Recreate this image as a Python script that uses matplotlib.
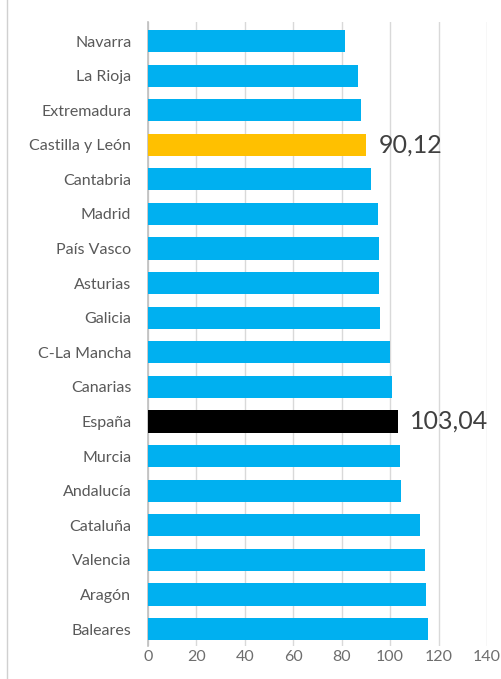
import matplotlib.pyplot as plt
from matplotlib.lines import Line2D

plt.rcParams['font.family'] = ['Lato', 'DejaVu Sans']

# datos (indice, de arriba a abajo)
regiones = ['Navarra', 'La Rioja', 'Extremadura', 'Castilla y León', 'Cantabria',
            'Madrid', 'País Vasco', 'Asturias', 'Galicia', 'C-La Mancha',
            'Canarias', 'España', 'Murcia', 'Andalucía', 'Cataluña',
            'Valencia', 'Aragón', 'Baleares']
valores = [81.2, 86.6, 88.1, 90.12, 92.3, 95.1, 95.5, 95.3, 95.7, 99.9,
           100.7, 103.04, 104.0, 104.6, 112.3, 114.3, 115.0, 115.6]
etiquetas = {'Castilla y León': '90,12', 'España': '103,04'}
colores_especiales = {'Castilla y León': '#FFC000', 'España': '#000000'}
azul = '#00B0F0'
xticks = [0, 20, 40, 60, 80, 100, 120, 140]

fig = plt.figure(figsize=(5.02, 6.79), dpi=100)
ax = fig.add_axes([148 / 502, 1 - 646 / 679, (487 - 148) / 502, (646 - 22) / 679])

ypos = list(range(len(regiones)))
cols = [colores_especiales.get(r, azul) for r in regiones]
ax.barh(ypos, valores, height=0.64, color=cols, zorder=3)

for i, r in enumerate(regiones):
    if r in etiquetas:
        ax.text(valores[i] + 5.3, i, etiquetas[r], va='center', ha='left',
                fontsize=18, color='#404040', zorder=4)

ax.set_ylim(len(regiones) - 0.51, -0.55)
ax.set_xlim(0, 140)
ax.set_yticks(ypos)
ax.set_yticklabels(regiones, fontsize=11.5, color='#595959')
ax.set_xticks(xticks)
ax.set_xticklabels([str(t) for t in xticks], fontsize=11.5, color='#6E6E6E')
ax.tick_params(axis='y', length=0, pad=12)
ax.tick_params(axis='x', length=0, pad=3)
ax.grid(axis='x', color='#D9D9D9', linewidth=1, zorder=0)
for s in ['top', 'right', 'bottom']:
    ax.spines[s].set_visible(False)
ax.spines['left'].set_color('#BFBFBF')
ax.spines['left'].set_linewidth(1.2)

# marco del grafico a la izquierda
fig.add_artist(Line2D([7 / 502, 7 / 502], [0, 1], color='#D0D0D0', linewidth=1))

fig.savefig('out.png', dpi=100)
